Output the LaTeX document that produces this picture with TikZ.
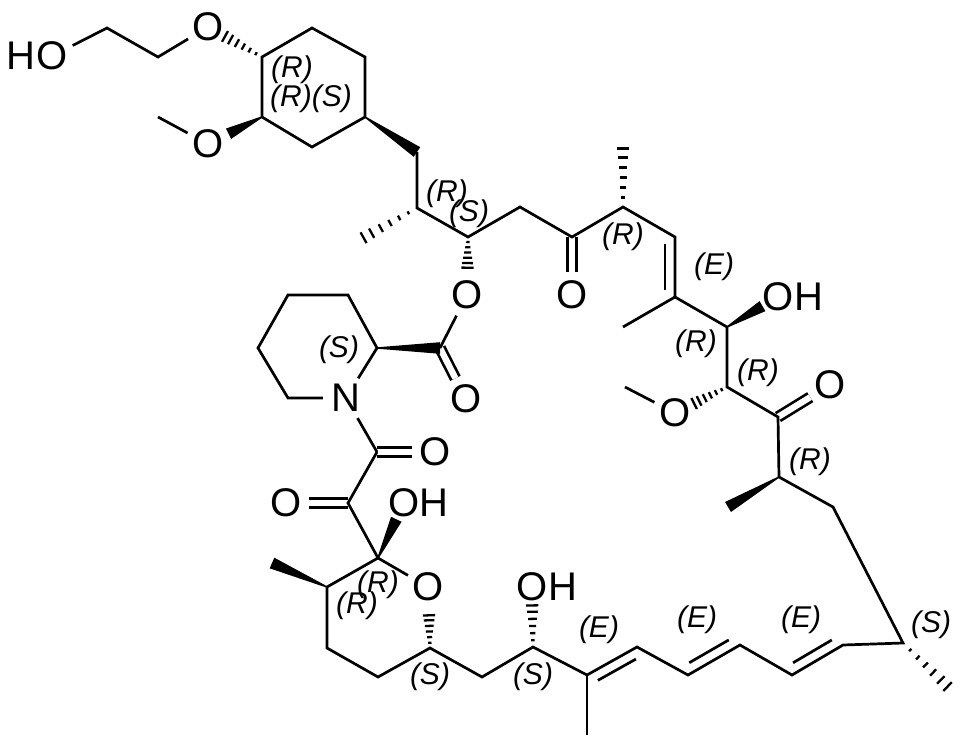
\documentclass[tikz,border=0pt]{standalone}
\usepackage{fontspec}
\setmainfont{Liberation Sans}
\usetikzlibrary{calc}
\newcommand\atmfnt{\fontsize{40}{42}\selectfont}
\newcommand\stfnt{\fontsize{30}{32}\selectfont\itshape}
\tikzset{
  bond/.style={line width=2.7pt},
  dbond/.style={line width=2.7pt, double, double distance=6.3pt},
  atom/.style={circle, inner sep=0pt, minimum size=46pt, font=\atmfnt},
  htext/.style={inner sep=0pt, font=\atmfnt},
  stereo/.style={inner sep=0pt, font=\stfnt},
  hashst/.style={line width=2.3pt},
}
% wedge: #1 narrow end, #2 wide end, #3 gap (pt) left before #2
\newcommand\wdg[3]{%
  \path ($(#2)!#3pt!(#1)$) coordinate (wtip);
  \fill ($(#1)!0.7pt!90:(wtip)$) -- ($(wtip)!5.8pt!-90:(#1)$) -- ($(wtip)!5.8pt!90:(#1)$) -- ($(#1)!0.7pt!-90:(wtip)$) -- cycle;
}
% hashed wedge
\newcommand\hsh[3]{%
  \path ($(#2)!#3pt!(#1)$) coordinate (wtip);
  \foreach \t in {0.16,0.33,0.50,0.67,0.84,0.99}{%
    \path ($(#1)!\t!(wtip)$) coordinate (hc);
    \pgfmathsetmacro\hw{0.8+\t*5.4}%
    \draw[hashst] ($(hc)!\hw pt!90:(#1)$) -- ($(hc)!\hw pt!-90:(#1)$);
  }
}
% inner line of a chain double bond; #3 = side angle (90 or -90)
\newcommand\inr[3]{%
  \path ($(#1)!0.12!(#2)$) coordinate (ia) ($(#1)!0.88!(#2)$) coordinate (ib);
  \path ($(ia)!10pt!#3:(ib)$) coordinate (ja);
  \draw[bond] (ja) -- ($(ja)+(ib)-(ia)$);
}
\begin{document}
\begin{tikzpicture}[x=1pt,y=-1pt]
\fill[white] (0,0) rectangle (962,745);
\useasboundingbox (0,0) rectangle (962,745);
% carbon positions
\coordinate (c1) at (107,28);
\coordinate (c2) at (158,57);
\coordinate (r1) at (262,57);
\coordinate (r2) at (312,28);
\coordinate (r3) at (365,57);
\coordinate (r4) at (365,117);
\coordinate (r5) at (312,147);
\coordinate (r6) at (262,117);
\coordinate (me1) at (158,117);
\coordinate (ch2a) at (417,152);
\coordinate (c9) at (417,208);
\coordinate (me2) at (363,238);
\coordinate (c10) at (468,237);
\coordinate (c11) at (520,207);
\coordinate (c12) at (572,237);
\coordinate (c13) at (623,207);
\coordinate (me3) at (623,148);
\coordinate (c14) at (675,237);
\coordinate (c15) at (675,297);
\coordinate (me4) at (623,327);
\coordinate (c16) at (727,327);
\coordinate (c17) at (727,387);
\coordinate (me5) at (625,387);
\coordinate (c18) at (778,417);
\coordinate (c19) at (779,477);
\coordinate (me6) at (728,507);
\coordinate (c20) at (833,507);
\coordinate (c21) at (903,643);
\coordinate (me7) at (948,687);
\coordinate (c22) at (843,645);
\coordinate (c23) at (792,675);
\coordinate (c24) at (740,645);
\coordinate (c25) at (688,675);
\coordinate (c26) at (637,647);
\coordinate (c27) at (587,675);
\coordinate (me8) at (587,735);
\coordinate (c28) at (533,647);
\coordinate (c29) at (482,677);
\coordinate (c30) at (430,648);
\coordinate (c31) at (378,677);
\coordinate (c32) at (327,648);
\coordinate (c33) at (327,587);
\coordinate (me9) at (272,563);
\coordinate (c34) at (378,558);
\coordinate (c35) at (348,503);
\coordinate (c36) at (377,452);
\coordinate (p1) at (377,348);
\coordinate (p2) at (348,295);
\coordinate (p3) at (288,295);
\coordinate (p4) at (258,348);
\coordinate (p5) at (288,398);
\coordinate (ce) at (440,348);
% hetero atoms
\node[atom] (oho) at (52,56) {O};
\node[htext] (hho) at (21,56) {H};
\node[atom] (o1) at (208,27) {O};
\node[atom] (o2) at (208,144) {O};
\node[atom] (o3) at (467,295) {O};
\node[atom] (o4) at (572,295) {O};
\node[atom] (o5) at (778,297) {O};
\node[htext] (h5) at (809,297) {H};
\node[atom] (o6) at (675,413) {O};
\node[atom] (o7) at (830,385) {O};
\node[atom] (o8) at (532,587) {O};
\node[htext] (h8) at (563,587) {H};
\node[atom] (o9) at (428,587) {O};
\node[atom] (o10) at (404,503) {O};
\node[htext] (h10) at (434,503) {H};
\node[atom] (o11) at (286,503) {O};
\node[atom] (o12) at (435,452) {O};
\node[atom] (o13) at (466,399) {O};
\node[atom] (n1) at (346,398) {N};
% double bonds (terminal)
\draw[dbond] (c12) -- (o4);
\draw[dbond] (ce) -- (o13);
\draw[dbond] (c18) -- (o7);
\draw[dbond] (c35) -- (o11);
\draw[dbond] (c36) -- (o12);
% skeleton
\draw[bond] (ch2a) -- (c9) -- (c10) -- (c11) -- (c12) -- (c13) -- (c14) -- (c15) -- (c16) -- (c17) -- (c18) -- (c19) -- (c20) -- (c21) -- (c22) -- (c23) -- (c24) -- (c25) -- (c26) -- (c27) -- (c28) -- (c29) -- (c30) -- (c31) -- (c32) -- (c33) -- (c34) -- (c35) -- (c36);
\draw[bond] (c15) -- (me4);
\draw[bond] (c27) -- (me8);
\draw[bond] (r1) -- (r2) -- (r3) -- (r4) -- (r5) -- (r6) -- cycle;
\draw[bond] (n1) -- (p1) -- (p2) -- (p3) -- (p4) -- (p5) -- (n1);
\draw[bond] (n1) -- (c36);
\draw[bond] (oho) -- (c1) -- (c2) -- (o1);
\draw[bond] (o2) -- (me1);
\draw[bond] (ce) -- (o3);
\draw[bond] (o6) -- (me5);
\draw[bond] (c34) -- (o9);
% inner lines of chain double bonds
\inr{c14}{c15}{-90}
\inr{c27}{c26}{-90}
\inr{c25}{c24}{90}
\inr{c23}{c22}{90}
% wedges
\wdg{r6}{o2}{23}
\wdg{r4}{ch2a}{0}
\wdg{c16}{o5}{18}
\wdg{c19}{me6}{0}
\wdg{c33}{me9}{0}
\wdg{c34}{o10}{18}
\wdg{p1}{ce}{0}
% hashed wedges
\hsh{r1}{o1}{19}
\hsh{c9}{me2}{0}
\hsh{c10}{o3}{27}
\hsh{c13}{me3}{0}
\hsh{c17}{o6}{21}
\hsh{c21}{me7}{0}
\hsh{c28}{o8}{18}
\hsh{c30}{o9}{28}
% stereo descriptors
\node[stereo] (s1) at (292,70) {(R)};
\node[stereo] (s2) at (311,99) {(R)(S)};
\node[stereo] (s3) at (447,194) {(R)};
\node[stereo] (s4) at (469,214) {(S)};
\node[stereo] (s5) at (623,237) {(R)};
\node[stereo] (s6) at (714,267) {(E)};
\node[stereo] (s7) at (696,344) {(R)};
\node[stereo] (s8) at (758,373) {(R)};
\node[stereo] (s9) at (810,462) {(R)};
\node[stereo] (s10) at (931,625) {(S)};
\node[stereo] (s11) at (801,620) {(E)};
\node[stereo] (s12) at (697,620) {(E)};
\node[stereo] (s13) at (599,630) {(E)};
\node[stereo] (s14) at (533,677) {(S)};
\node[stereo] (s15) at (430,677) {(S)};
\node[stereo] (s17) at (357,606) {(R)};
\node[stereo] (s16) at (378,585) {(R)};
\node[stereo] (s18) at (339,350) {(S)};
\end{tikzpicture}
\end{document}
